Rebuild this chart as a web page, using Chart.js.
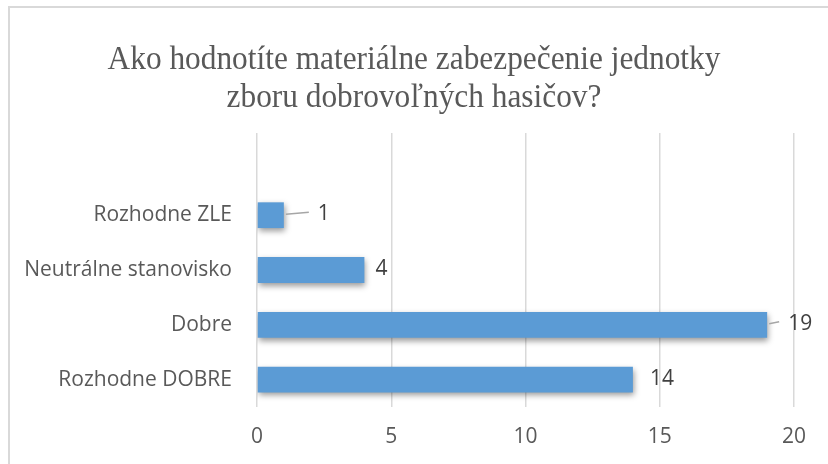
<!DOCTYPE html>
<html>
<head>
<meta charset="utf-8">
<script src="https://cdn.jsdelivr.net/npm/chart.js@4/dist/chart.umd.min.js"></script>
<style>
  html,body{margin:0;padding:0;background:#fff;}
  #wrap{position:relative;width:828px;height:464px;overflow:hidden;}
  #frame{position:absolute;left:8px;top:6px;width:900px;height:500px;border-top:2px solid #d9d9d9;border-left:2px solid #d9d9d9;}
  canvas{position:absolute;left:0;top:0;}
</style>
</head>
<body>
<div id="wrap">
  <div id="frame"></div>
  <canvas id="c" width="828" height="464"></canvas>
</div>
<script>
// ---- data ----
const categories = ['', 'Rozhodne ZLE', 'Neutrálne stanovisko', 'Dobre', 'Rozhodne DOBRE'];
const values = [null, 1, 4, 19, 14];
const xTicks = [0, 5, 10, 15, 20];
const titleLines = ['Ako hodnotíte materiálne zabezpečenie jednotky', 'zboru dobrovoľných hasičov?'];

// label placement (style): gap from bar end, and whether a leader line is drawn
const labelGap = [0, 34, 11, 21, 17];
const leader = [false, true, false, true, false];

const titlePlugin = {
  id: 'serifTitle',
  afterDraw(chart) {
    const ctx = chart.ctx;
    ctx.save();
    ctx.font = '33px "Liberation Serif", "Times New Roman", serif';
    ctx.fillStyle = '#595959';
    ctx.textAlign = 'center';
    ctx.textBaseline = 'middle';
    ctx.translate(414, 0);
    ctx.scale(0.95, 1);
    ctx.fillText(titleLines[0], 0, 60);
    ctx.fillText(titleLines[1], 0, 98);
    ctx.restore();
  }
};

const shadowPlugin = {
  id: 'barShadow',
  beforeDatasetDraw(chart) {
    const ctx = chart.ctx;
    ctx.save();
    ctx.shadowColor = 'rgba(0,0,0,0.4)';
    ctx.shadowBlur = 6;
    ctx.shadowOffsetX = 1;
    ctx.shadowOffsetY = 3;
  },
  afterDatasetDraw(chart) {
    chart.ctx.restore();
  }
};

const labelPlugin = {
  id: 'valueLabels',
  afterDatasetsDraw(chart) {
    const ctx = chart.ctx;
    const meta = chart.getDatasetMeta(0);
    ctx.save();
    ctx.font = '21px "Open Sans"';
    ctx.fillStyle = '#404040';
    ctx.textBaseline = 'middle';
    ctx.textAlign = 'left';
    meta.data.forEach((bar, i) => {
      const v = values[i];
      if (v === null || v === undefined) return;
      if (!isFinite(bar.x) || !isFinite(bar.y)) return;
      const x = bar.x + labelGap[i];
      const y = bar.y;
      if (leader[i]) {
        ctx.strokeStyle = '#a6a6a6';
        ctx.lineWidth = 1.5;
        ctx.beginPath();
        ctx.moveTo(bar.x + 2, y - 1);
        ctx.lineTo(x - 9, y - 3);
        ctx.stroke();
      }
      ctx.fillText(String(v), x, y - 1);
    });
    ctx.restore();
  }
};

function barGradient(context) {
  const chart = context.chart;
  const el = context.element;
  if (!el || !chart.chartArea) return '#5b9bd5';
  const y = el.y, h = el.height;
  if (!isFinite(y) || !isFinite(h) || h <= 0) return '#5b9bd5';
  const g = chart.ctx.createLinearGradient(0, y - h / 2, 0, y + h / 2);
  g.addColorStop(0, '#71afe5');
  g.addColorStop(0.5, '#5a9bd9');
  g.addColorStop(1, '#3a7fc5');
  return g;
}

new Chart(document.getElementById('c'), {
  type: 'bar',
  data: {
    labels: categories,
    datasets: [{
      data: values,
      backgroundColor: barGradient,
      borderWidth: 0,
      barPercentage: 0.47,
      categoryPercentage: 1.0
    }]
  },
  options: {
    indexAxis: 'y',
    responsive: false,
    animation: false,
    devicePixelRatio: 1,
    layout: { padding: { left: 0, right: 34, top: 133, bottom: 0 } },
    plugins: {
      legend: { display: false },
      tooltip: { enabled: false },
      title: { display: false }
    },
    scales: {
      x: {
        min: 0, max: 20,
        afterBuildTicks(scale) { scale.ticks = xTicks.map(v => ({ value: v })); },
        grid: { color: '#d9d9d9', lineWidth: 1.5, drawTicks: false },
        border: { display: false },
        ticks: { color: '#595959', font: { family: '"Open Sans"', size: 21 }, padding: 17 },
        afterFit(scale) { scale.height = 57; }
      },
      y: {
        grid: { display: false, drawTicks: false },
        border: { display: false },
        ticks: { color: '#595959', font: { family: '"Open Sans"', size: 21 }, padding: 25 },
        afterFit(scale) { scale.width = 257; }
      }
    }
  },
  plugins: [shadowPlugin, labelPlugin, titlePlugin]
});
</script>
</body>
</html>
